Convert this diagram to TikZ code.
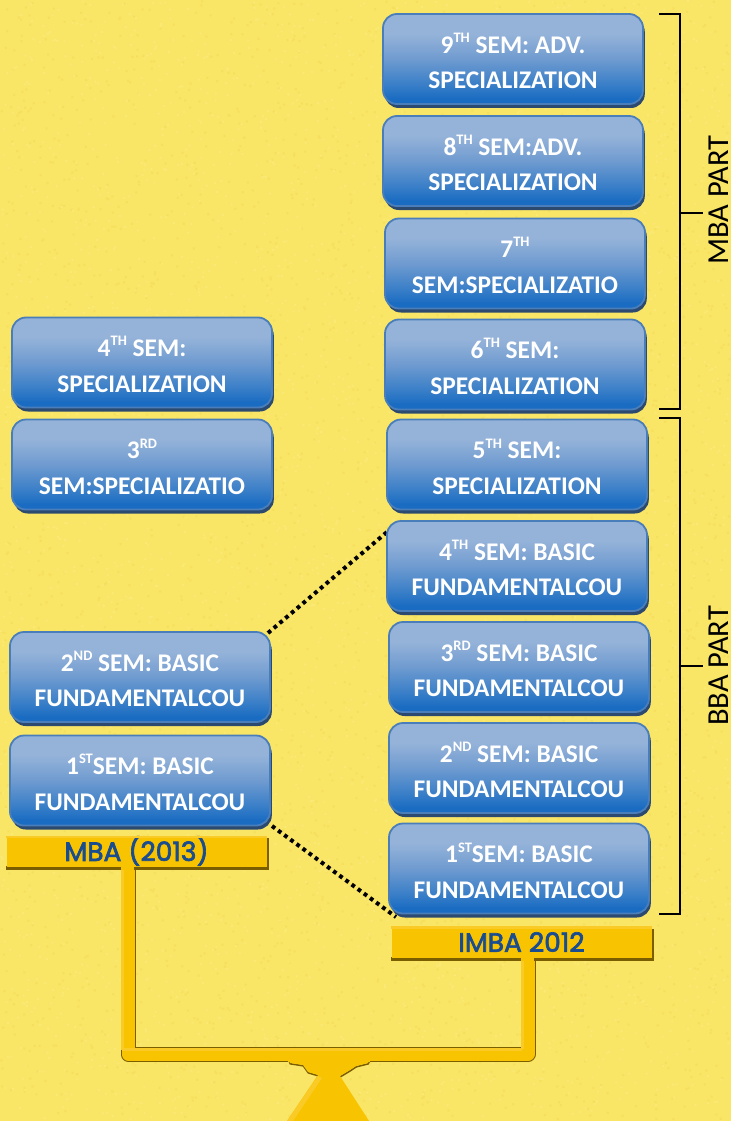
\documentclass[tikz,border=0pt]{standalone}
\usepackage{fontspec}
\setmainfont{Carlito}
\newfontfamily\barfont{Poppins}[FakeBold=2.5]
\usetikzlibrary{shadows,calc}
\definecolor{bgyel}{HTML}{F9E566}
\definecolor{bgdk}{HTML}{F6DF5C}
\definecolor{bglt}{HTML}{FAE974}
\definecolor{gold}{HTML}{F8C300}
\definecolor{goldlt}{HTML}{FACB26}
\definecolor{golddk}{HTML}{7A5E00}
\definecolor{semedge}{HTML}{4A7EBB}
\definecolor{semshadow}{HTML}{2C4A70}
\definecolor{bartext}{HTML}{1A4C90}
\definecolor{semB}{HTML}{1A6CC2}
\definecolor{semC}{HTML}{3A7FC8}
\definecolor{semD}{HTML}{6F9BD0}
\definecolor{semT}{HTML}{95B3D9}
\pgfdeclareverticalshading{semgrad}{100bp}{
 color(0bp)=(semB);color(28bp)=(semB);color(36bp)=(semC);color(50bp)=(semD);color(64bp)=(semT);color(100bp)=(semT)}
\newcommand{\supt}[1]{\rule{0pt}{24pt}\raisebox{0.42em}{\fontsize{14.5}{14.5}\selectfont #1}}
\tikzset{
 sembox/.style={rectangle,rounded corners=14pt,draw=semedge,line width=1.8pt,shading=semgrad,
   minimum width=260pt,minimum height=90pt,inner sep=0pt,align=center,text=white,
   font=\fontsize{25.4}{35.5}\selectfont\bfseries,
   general shadow={fill=semshadow,shadow xshift=1.8pt,shadow yshift=-4pt}},
 brace/.style={draw=black,line width=1.6pt},
 partlabel/.style={rotate=90,font=\fontsize{30.5}{30.5}\selectfont,text=black,inner sep=0pt},
 goldbar/.style={fill=gold,minimum width=260pt,minimum height=31pt,inner sep=0pt,text=bartext,
   font=\barfont\fontsize{26.5}{26.5}\selectfont},
 dots/.style={draw=black,line width=4pt,dash pattern=on 3.8pt off 3.8pt},
}
\begin{document}
\begin{tikzpicture}[x=1pt,y=-1pt]
\useasboundingbox (0,0) rectangle (731,1121);
\fill[bgyel] (0,0) rectangle (731,1121);
% paper grain of the background
\pgfmathsetseed{4711}
\fill[bgdk] foreach \i in {1,...,3500} {
  (rnd*729,rnd*1119) rectangle ++(2,2)};
\fill[bglt] foreach \i in {1,...,3500} {
  (rnd*729,rnd*1119) rectangle ++(2,2)};

% dotted connectors are drawn first, the boxes lie over them
\coordinate (dA) at (387,532);
\coordinate (dB) at (396,917);
\coordinate (dC) at (268,633);
\coordinate (dD) at (272,826);
\draw[dots] (dC) -- (dA);
\draw[dots] (dD) -- (dB);

% right column
\node[sembox] (r9) at (513,59) {9\supt{TH} SEM: ADV.\\SPECIALIZATION};
\node[sembox] (r8) at (513,161) {8\supt{TH} SEM:ADV.\\SPECIALIZATION};
\node[sembox] (r7) at (515,263.5) {7\supt{TH}\\SEM:SPECIALIZATIO};
\node[sembox] (r6) at (515,364.5) {6\supt{TH} SEM:\\SPECIALIZATION};
\node[sembox] (r5) at (517,464.5) {5\supt{TH} SEM:\\SPECIALIZATION};
\node[sembox] (r4) at (517,566) {4\supt{TH} SEM: BASIC\\FUNDAMENTALCOU};
\node[sembox] (r3) at (519,667) {3\supt{RD} SEM: BASIC\\FUNDAMENTALCOU};
\node[sembox] (r2) at (519,768) {2\supt{ND} SEM: BASIC\\FUNDAMENTALCOU};
\node[sembox] (r1) at (519,868.5) {1\supt{ST}SEM: BASIC\\FUNDAMENTALCOU};
% left column
\node[sembox] (l4) at (142,362.5) {4\supt{TH} SEM:\\SPECIALIZATION};
\node[sembox] (l3) at (142,464.5) {3\supt{RD}\\SEM:SPECIALIZATIO};
\node[sembox] (l2) at (140,677) {2\supt{ND} SEM: BASIC\\FUNDAMENTALCOU};
\node[sembox] (l1) at (140,780.5) {1\supt{ST}SEM: BASIC\\FUNDAMENTALCOU};

% brackets
\draw[brace] (659,14) -- (680,14) -- (680,409) -- (659,409);
\draw[brace] (680,213) -- (703,213);
\draw[brace] (659,418) -- (680,418) -- (680,914) -- (659,914);
\draw[brace] (680,666) -- (703,666);
\node[partlabel] (mbap) at (719,200) {MBA PART};
\node[partlabel] (bbap) at (719,666) {BBA PART};

% stand
\coordinate (sl) at (128,868);
\coordinate (jl) at (128,1054);
\coordinate (jr) at (528,1054);
\coordinate (sr) at (528,960);
\draw[golddk,line width=15pt,line join=round,shift={(.5,.5)}] (sl) -- (jl) -- (jr) -- (sr);
\draw[golddk,line width=1.6pt,shift={(.3,.8)}] (288,1058) -- (290,1063) -- (303,1065) -- (308,1072) -- (318,1075);
\draw[golddk,line width=1.6pt,shift={(.3,.8)}] (340,1076) -- (350,1070) -- (356,1066) -- (368,1063) -- (370,1058);
\fill[gold] (288,1058) -- (290,1063) -- (303,1065) -- (308,1072) -- (318,1075) -- (287,1121) -- (369,1121) -- (340,1076) -- (350,1070) -- (356,1066) -- (368,1063) -- (370,1058) -- cycle;
\fill[goldlt] (318,1076) -- (287,1121) -- (293,1121) -- (322,1078) -- cycle;
\draw[gold,line width=13pt,line join=round,shift={(-.5,-.5)}] (sl) -- (jl) -- (jr) -- (sr);
\fill[gold] (288,1049) rectangle (370,1062);
\draw[goldlt,line width=3pt] (122,869) -- (122,1050);
\draw[goldlt,line width=3pt] (122,1049) -- (522,1049);
\draw[goldlt,line width=3pt] (522,1049) -- (522,961);

% gold bars
\fill[golddk] (6,866) rectangle (268.5,869.5);
\fill[golddk] (391,957) rectangle (653.5,960.5);
\fill[golddk] (266.5,838) rectangle (268.5,869);
\fill[golddk] (651.5,929) rectangle (653.5,960);
\node[goldbar] (mba) at (136.5,851) {MBA (2013)};
\node[goldbar] (imba) at (521.5,942) {IMBA 2012};
\fill[goldlt] (6,835.5) rectangle (267,838);
\fill[goldlt] (391,926) rectangle (652,928.5);
\fill[gold] (121,866) rectangle (134,870);
\fill[gold] (521,957) rectangle (534,961);
\end{tikzpicture}
\end{document}
